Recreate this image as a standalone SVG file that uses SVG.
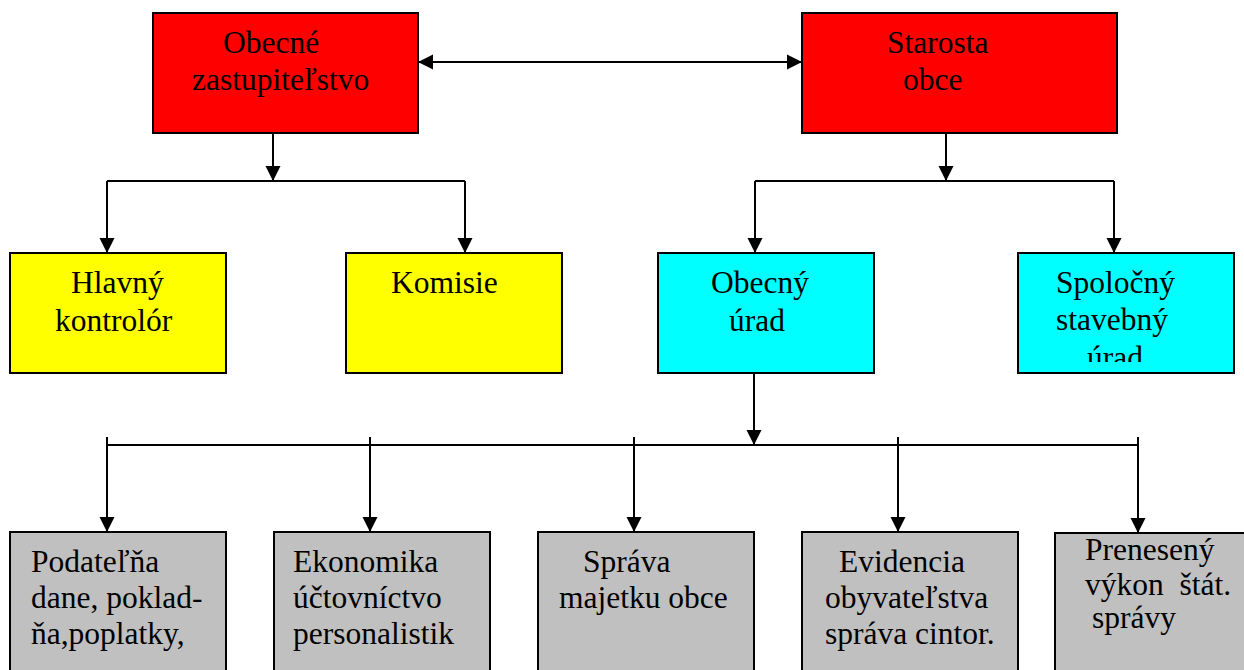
<svg xmlns="http://www.w3.org/2000/svg" width="1244" height="670" viewBox="0 0 1244 670">
<style>
.box{stroke:#000;stroke-width:2}
.red{fill:#FF0000}
.yel{fill:#FFFF00}
.cya{fill:#00FFFF}
.gry{fill:#C0C0C0}
text{font-family:"Liberation Serif","Times New Roman",serif;font-size:31.5px;fill:#000}
.ln{stroke:#000;stroke-width:2;fill:none}
.ar{marker-end:url(#ah)}
</style>
<defs>
<marker id="ah" markerUnits="userSpaceOnUse" markerWidth="16" markerHeight="16" refX="15" refY="7.5" orient="auto-start-reverse" viewBox="0 0 16 15">
<path d="M0,0 L15,7.5 L0,15 z" fill="#000"/>
</marker>
<clipPath id="clipS"><rect x="1018" y="253" width="216" height="109"/></clipPath>
</defs>
<g id="connectors">
<path class="ln" d="M418,62 L802,62" marker-start="url(#ah)" marker-end="url(#ah)"/>
<path class="ln ar" d="M273,133 L273,181"/>
<path class="ln" d="M107,181 L465,181"/>
<path class="ln ar" d="M107,181 L107,253"/>
<path class="ln ar" d="M465,181 L465,253"/>
<path class="ln ar" d="M946,133 L946,181"/>
<path class="ln" d="M755,181 L1114,181"/>
<path class="ln ar" d="M755,181 L755,253"/>
<path class="ln ar" d="M1114,181 L1114,253"/>
<path class="ln ar" d="M754,373 L754,445"/>
<path class="ln" d="M107,445 L1138,445"/>
<path class="ln ar" d="M107,437 L107,532"/>
<path class="ln ar" d="M370,437 L370,532"/>
<path class="ln ar" d="M634,437 L634,532"/>
<path class="ln ar" d="M898,437 L898,532"/>
<path class="ln ar" d="M1138,437 L1138,533"/>
</g>
<g id="obecne-zastupitelstvo">
<rect class="box red" x="153" y="13" width="265" height="120"/>
<text x="223" y="53">Obecné</text>
<text x="192" y="90">zastupiteľstvo</text>
</g>
<g id="starosta-obce">
<rect class="box red" x="802" y="13" width="315" height="120"/>
<text x="887" y="53">Starosta</text>
<text x="903" y="90">obce</text>
</g>
<g id="hlavny-kontrolor">
<rect class="box yel" x="10" y="253" width="216" height="120"/>
<text x="71" y="293">Hlavný</text>
<text x="55" y="331">kontrolór</text>
</g>
<g id="komisie">
<rect class="box yel" x="346" y="253" width="216" height="120"/>
<text x="391" y="293">Komisie</text>
</g>
<g id="obecny-urad">
<rect class="box cya" x="658" y="253" width="216" height="120"/>
<text x="711" y="293">Obecný</text>
<text x="729" y="331">úrad</text>
</g>
<g id="spolocny-stavebny-urad">
<rect class="box cya" x="1018" y="253" width="216" height="120"/>
<g clip-path="url(#clipS)">
<text x="1056" y="293">Spoločný</text>
<text x="1056" y="330">stavebný</text>
<text x="1087" y="368">úrad</text>
</g>
</g>
<g id="podatelna">
<rect class="box gry" x="10" y="532" width="216" height="150"/>
<text x="31" y="572">Podateľňa</text>
<text x="31" y="608">dane, poklad-</text>
<text x="31" y="644">ňa,poplatky,</text>
</g>
<g id="ekonomika">
<rect class="box gry" x="274" y="532" width="216" height="150"/>
<text x="293" y="572">Ekonomika</text>
<text x="293" y="608">účtovníctvo</text>
<text x="293" y="644">personalistik</text>
</g>
<g id="sprava-majetku">
<rect class="box gry" x="538" y="532" width="216" height="150"/>
<text x="583" y="572">Správa</text>
<text x="559" y="608">majetku obce</text>
</g>
<g id="evidencia">
<rect class="box gry" x="802" y="532" width="216" height="150"/>
<text x="839" y="572">Evidencia</text>
<text x="825" y="608">obyvateľstva</text>
<text x="825" y="644">správa cintor.</text>
</g>
<g id="preneseny-vykon">
<rect class="box gry" x="1055" y="533" width="200" height="150"/>
<text x="1085" y="560">Prenesený</text>
<text x="1085" y="595" xml:space="preserve">výkon  štát.</text>
<text x="1092" y="628">správy</text>
</g>
</svg>
